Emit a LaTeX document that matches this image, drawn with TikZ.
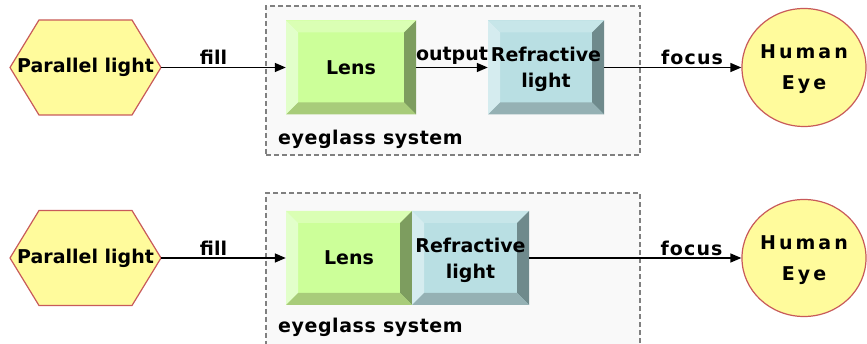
\documentclass[tikz,border=0pt]{standalone}
\usepackage{fontspec}
\setmainfont{DejaVu Sans}
\usetikzlibrary{arrows.meta}
\definecolor{hexfill}{HTML}{FFFB9C}
\definecolor{hexline}{HTML}{C85A5A}
\definecolor{lensmain}{HTML}{CCFF99}
\definecolor{lenstop}{HTML}{DAFFB4}
\definecolor{lensleft}{HTML}{E2FFCA}
\definecolor{lensright}{HTML}{7D9D5F}
\definecolor{lensbot}{HTML}{A8CC7A}
\definecolor{refmain}{HTML}{B9DFE3}
\definecolor{reftop}{HTML}{C7E6E9}
\definecolor{refleft}{HTML}{D5ECEF}
\definecolor{refright}{HTML}{6F8A8C}
\definecolor{refbot}{HTML}{95B1B4}
\definecolor{sysfill}{HTML}{F9F9F9}
\definecolor{sysline}{HTML}{808080}
\newcommand{\bfs}{\fontsize{19}{24}\selectfont\bfseries}
\newcommand{\bevelfill}[5]{%
  \fill[#1] (path picture bounding box.north west) rectangle (path picture bounding box.south east);
  \fill[#2] (path picture bounding box.north west) -- (path picture bounding box.north east)
     -- ([shift={(-12pt,-12pt)}]path picture bounding box.north east)
     -- ([shift={(12pt,-12pt)}]path picture bounding box.north west) -- cycle;
  \fill[#3] (path picture bounding box.north west) -- ([shift={(12pt,-12pt)}]path picture bounding box.north west)
     -- ([shift={(12pt,12pt)}]path picture bounding box.south west) -- (path picture bounding box.south west) -- cycle;
  \fill[#4] (path picture bounding box.north east) -- (path picture bounding box.south east)
     -- ([shift={(-12pt,12pt)}]path picture bounding box.south east)
     -- ([shift={(-12pt,-12pt)}]path picture bounding box.north east) -- cycle;
  \fill[#5] (path picture bounding box.south west) -- (path picture bounding box.south east)
     -- ([shift={(-12pt,12pt)}]path picture bounding box.south east)
     -- ([shift={(12pt,12pt)}]path picture bounding box.south west) -- cycle;}
\tikzset{
  x=1pt, y=-1pt,
  txt/.style={font=\bfs, text=black, inner sep=0pt},
  lensbox/.style={txt, rectangle, minimum height=94pt, align=center,
    path picture={\bevelfill{lensmain}{lenstop}{lensleft}{lensright}{lensbot}}},
  refbox/.style={txt, rectangle, minimum height=94pt, align=center, text depth=0pt,
    path picture={\bevelfill{refmain}{reftop}{refleft}{refright}{refbot}}},
  sysbox/.style={rectangle, fill=sysfill, draw=sysline, line width=1.4pt, dash pattern=on 5pt off 3pt, inner sep=0pt},
  hexnode/.style={txt, rectangle, minimum width=151pt, minimum height=95pt},
  hexshape/.style={fill=hexfill, draw=hexline, line width=1.2pt},
  eyenode/.style={txt, ellipse, fill=hexfill, draw=hexline, line width=1.2pt, align=center, text depth=0pt},
  conn/.style={line width=1.4pt, -{Triangle[length=11pt,width=9pt]}},
  lbl/.style={txt, above=2pt},
}
\usetikzlibrary{shapes.geometric}
\begin{document}
\begin{tikzpicture}
\useasboundingbox (0,0) rectangle (867,344);
\clip (0,0) rectangle (867,344);
% ---------- top row ----------
\node[sysbox, minimum width=374pt, minimum height=149pt] (sys1) at (453,80.5) {};
\node[txt, anchor=west] (sysl1) at (278,139) {\addfontfeature{LetterSpace=3}eyeglass system};
\draw[hexshape] (10,67.5) -- (39,20) -- (132,20) -- (161,67.5) -- (132,115) -- (39,115) -- cycle;
\node[hexnode] (hex1) at (85.5,67.5) {Parallel light};
\node[lensbox, minimum width=130pt] (lens1) at (351,67.5) {Lens};
\node[refbox, minimum width=116pt] (ref1) at (546,67.5) {Refractive\\[2pt]light};
\node[eyenode, minimum width=124pt, minimum height=118pt] (eye1) at (804,67.5)
  {\addfontfeature{LetterSpace=16}Human\\[7pt]\addfontfeature{LetterSpace=16}Eye};
\draw[conn] (hex1.east) -- node[lbl, pos=0.42] {fill} (lens1.west);
\draw[conn] (lens1.east) -- node[lbl] {output} (ref1.west);
\draw[conn] (ref1.east) -- node[lbl, pos=0.64] {\addfontfeature{LetterSpace=6}focus} (eye1.west);
% ---------- bottom row ----------
\node[sysbox, minimum width=374pt, minimum height=160pt] (sys2) at (453,273) {};
\node[txt, anchor=west] (sysl2) at (278,327) {\addfontfeature{LetterSpace=3}eyeglass system};
\draw[hexshape] (10,258) -- (39,210.5) -- (132,210.5) -- (161,258) -- (132,305.5) -- (39,305.5) -- cycle;
\node[hexnode] (hex2) at (85.5,258) {Parallel light};
\node[lensbox, minimum width=126pt] (lens2) at (349,258) {Lens};
\node[refbox, minimum width=117pt] (ref2) at (470.5,258) {Refractive\\[2pt]light};
\node[eyenode, minimum width=124pt, minimum height=117pt] (eye2) at (804,258)
  {\addfontfeature{LetterSpace=16}Human\\[7pt]\addfontfeature{LetterSpace=16}Eye};
\draw[conn] (hex2.east) -- node[lbl, pos=0.42] {fill} (lens2.west);
\draw[conn] (ref2.east) -- node[lbl, pos=0.765] {\addfontfeature{LetterSpace=6}focus} (eye2.west);
\end{tikzpicture}
\end{document}
